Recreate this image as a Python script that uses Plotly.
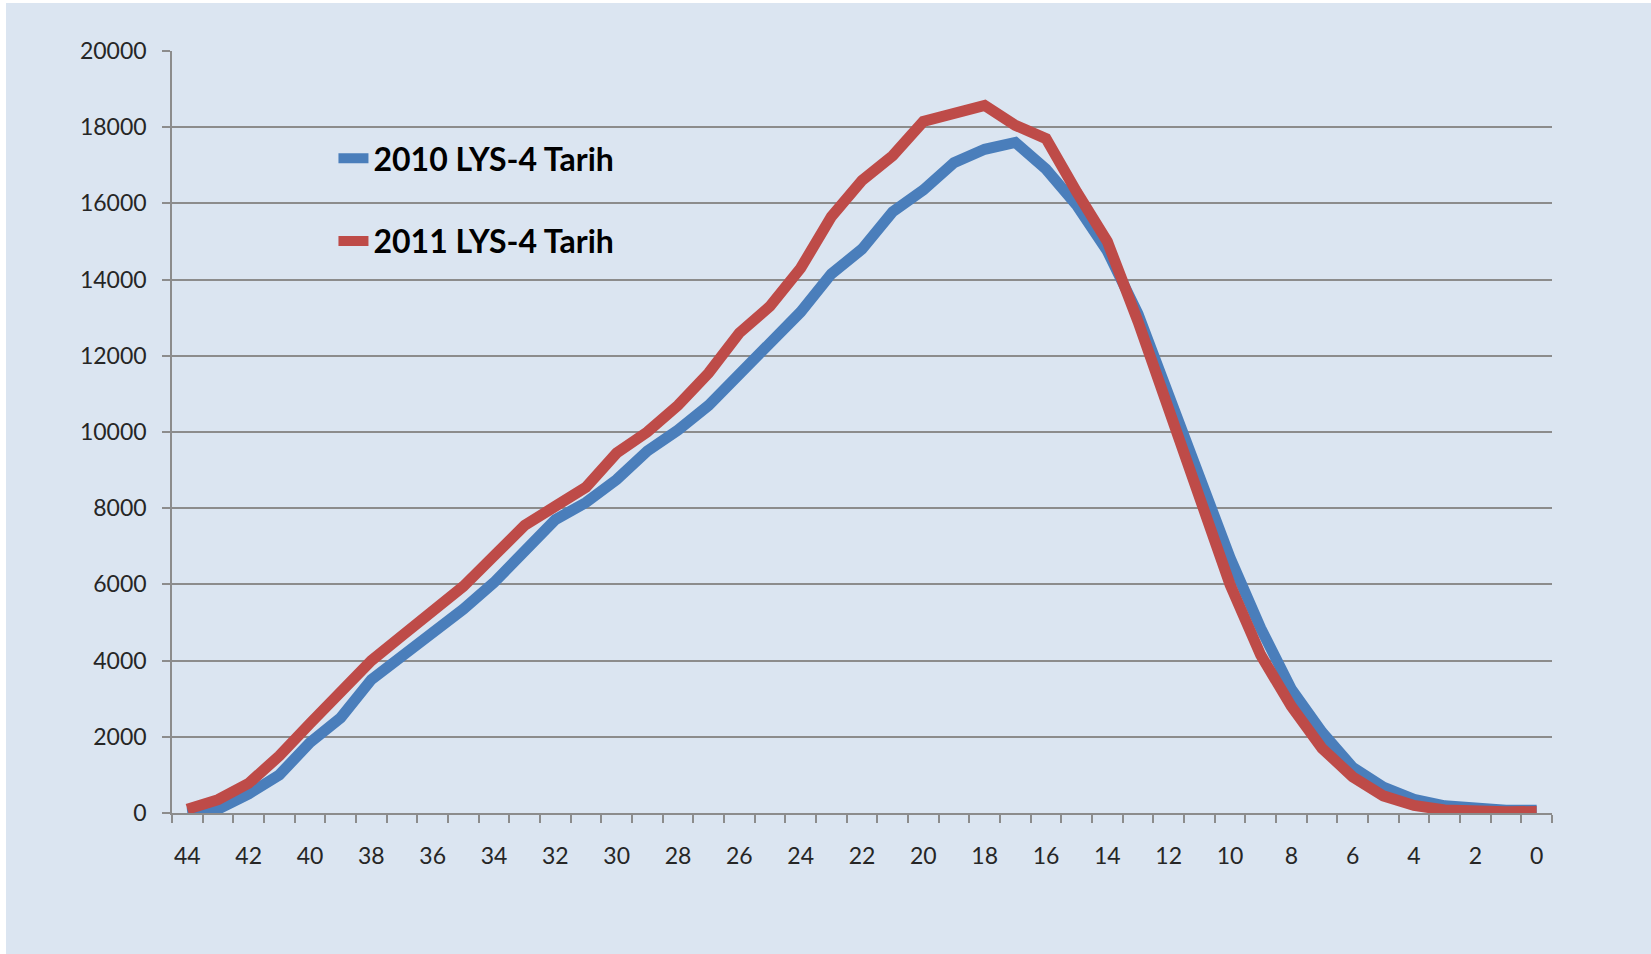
import plotly.graph_objects as go

# Categories (days remaining), left to right
days = [44, 43, 42, 41, 40, 39, 38, 37, 36, 35, 34, 33, 32, 31, 30, 29, 28, 27, 26, 25, 24, 23,
        22, 21, 20, 19, 18, 17, 16, 15, 14, 13, 12, 11, 10, 9, 8, 7, 6, 5, 4, 3, 2, 1, 0]

series_2010 = [0, 100, 500, 1000, 1850, 2500, 3500, 4100, 4700, 5350, 6050, 6900, 7700, 8150,
               8750, 9500, 10050, 10700, 11500, 12350, 13150, 14150, 14800, 15780, 16350, 17070,
               17420, 17600, 16900, 15950, 14750, 13100, 11000, 8900, 6700, 4850, 3250, 2120,
               1200, 680, 360, 190, 120, 70, 70]

series_2011 = [100, 350, 780, 1500, 2350, 3200, 4000, 4650, 5300, 5950, 6750, 7550, 8050, 8550,
               9450, 10000, 10700, 11550, 12600, 13300, 14300, 15650, 16600, 17250, 18150, 18350,
               18570, 18050, 17700, 16300, 15000, 12900, 10600, 8100, 6000, 4150, 2800, 1700,
               950, 450, 200, 80, 40, 30, 40]

name_2010 = "2010 LYS-4 Tarih"
name_2011 = "2011 LYS-4 Tarih"

y_ticks = [0, 2000, 4000, 6000, 8000, 10000, 12000, 14000, 16000, 18000, 20000]

W, H = 1651, 954
L, R, T, B = 172, 99, 51, 141

fig = go.Figure()
fig.add_trace(go.Scatter(x=days, y=series_2010, mode="lines", name=name_2010,
                         legendgroup="a",
                         line=dict(color="#4a7ebb", width=11)))
fig.add_trace(go.Scatter(x=days, y=series_2011, mode="lines", name=name_2011,
                         legendgroup="b",
                         line=dict(color="#be4b48", width=11)))

pw = W - L - R
ph = H - T - B
# white border strips on top/left of the picture; light blue card behind
fig.add_shape(type="rect", xref="paper", yref="paper", layer="below",
              x0=(6 - L) / pw, x1=(W + 5 - L) / pw,
              y0=(H - B - (H + 5)) / ph, y1=(H - B - 3) / ph,
              fillcolor="#dbe5f1", line=dict(width=0))

fig.update_layout(
    width=W, height=H,
    margin=dict(l=L, r=R, t=T, b=B, pad=0),
    paper_bgcolor="#ffffff",
    plot_bgcolor="#ebf1de",
    showlegend=True,
    legend=dict(x=0.117, y=0.895, xanchor="left", yanchor="top",
                bgcolor="rgba(0,0,0,0)", borderwidth=0,
                traceorder="grouped", tracegroupgap=38,
                font=dict(family="Lato, 'Liberation Sans', sans-serif", size=32,
                          color="#000000", weight="bold")),
    xaxis=dict(
        range=[44.5, -0.5],
        tickmode="linear", tick0=0, dtick=2,
        ticks="", showgrid=False, zeroline=False,
        showline=True, linecolor="#8c8c8c", linewidth=1.5,
        ticklabelstandoff=22,
        tickfont=dict(family="Lato, 'DejaVu Sans', sans-serif", size=23, color="#262626"),
        minor=dict(tickmode="linear", tick0=0.5, dtick=1, ticks="outside",
                   ticklen=8, tickcolor="#8c8c8c", tickwidth=1.5, showgrid=False),
    ),
    yaxis=dict(
        range=[0, 20000],
        tickmode="array", tickvals=y_ticks, tickformat="d",
        ticks="outside", ticklen=8, tickcolor="#8c8c8c", tickwidth=1.5,
        showgrid=True, gridcolor="#8c8c8c", gridwidth=1.5,
        zeroline=False,
        showline=True, linecolor="#8c8c8c", linewidth=1.5,
        ticklabelstandoff=11,
        tickfont=dict(family="Lato, 'DejaVu Sans', sans-serif", size=23, color="#262626"),
    ),
)

fig.write_html("out.html", config={"displayModeBar": False},
               post_script="document.body.style.margin='0';")
